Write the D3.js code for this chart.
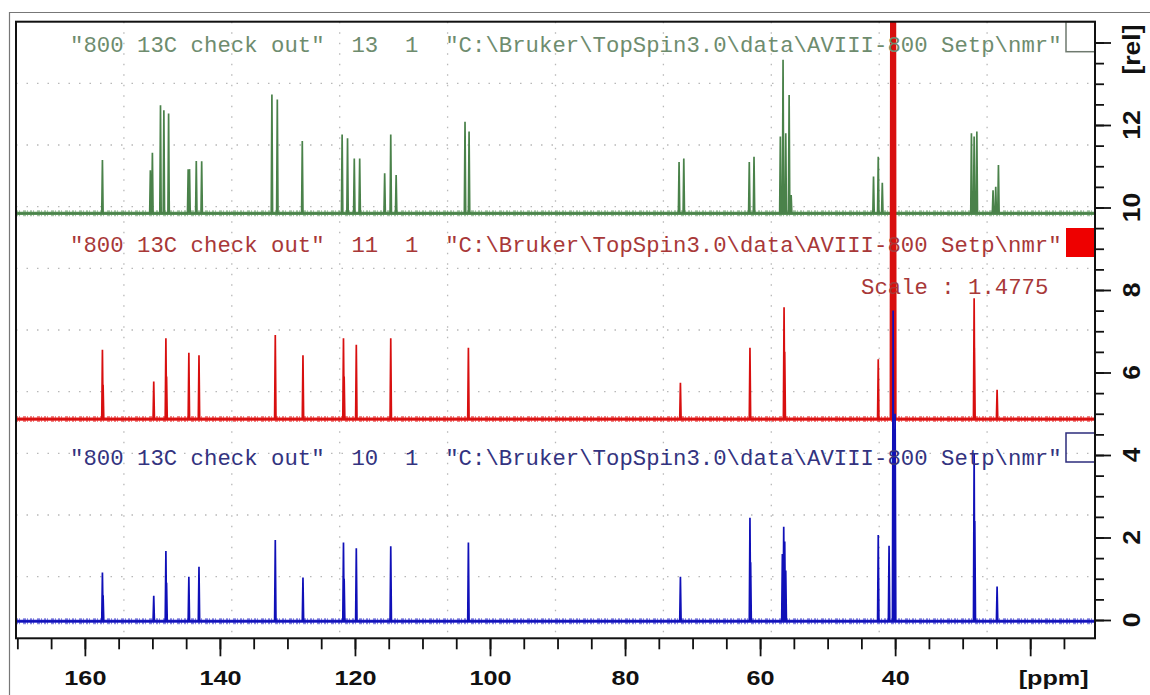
<!DOCTYPE html>
<html><head><meta charset="utf-8">
<script src="https://cdn.jsdelivr.net/npm/d3@7/dist/d3.min.js"></script>
<style>body{margin:0;background:#fff;overflow:hidden}</style>
</head><body><svg id="c" width="1150" height="695"></svg>
<script>
// ---------- data ----------
const ppmTickValues = [160, 140, 120, 100, 80, 60, 40, 20];
const ppmTickLabels = ["160", "140", "120", "100", "80", "60", "40", "[ppm]"];
const relTickValues = [0, 2, 4, 6, 8, 10, 12, 14];
const relTickLabels = ["0", "2", "4", "6", "8", "10", "12", "[rel]"];

const seriesTitles = [
  '"800 13C check out"  13  1  "C:\\Bruker\\TopSpin3.0\\data\\AVIII-800 Setp\\nmr"',
  '"800 13C check out"  11  1  "C:\\Bruker\\TopSpin3.0\\data\\AVIII-800 Setp\\nmr"',
  '"800 13C check out"  10  1  "C:\\Bruker\\TopSpin3.0\\data\\AVIII-800 Setp\\nmr"'
];
const scaleNote = "Scale : 1.4775";

// baselines (rel units, stacked offsets)
const baseline13 = 9.86;
const baseline11 = 4.87;
const baseline10 = -0.03;

// peaks: [ppm, top (rel)]
const peaks13 = [
  [157.4,11.15],[150.3,10.9],[150.0,11.33],[148.8,12.48],[148.3,12.36],[147.6,12.28],
  [144.7,10.93],[144.5,10.93],[143.5,11.13],[142.7,11.12],[132.3,12.74],[131.5,12.62],
  [127.8,11.61],[121.9,11.77],[121.1,11.68],[120.1,11.19],[119.3,11.19],
  [115.6,10.83],[114.7,11.77],[113.9,10.79],[103.7,12.08],[103.1,11.84],
  [72.0,11.1],[71.3,11.19],[61.6,11.1],[60.9,11.23],
  [57.0,11.72],[56.6,13.58],[56.2,11.8],[55.7,12.73],[55.4,10.3],
  [43.2,10.75],[42.5,11.23],[41.9,10.6],[40.5,20],[40.2,20],
  [28.7,11.8],[28.3,11.72],[27.9,11.84],[25.5,10.42],[25.1,10.5],[24.7,11.03]
];
const peaks11 = [
  [157.4,6.55],[157.3,5.7],[149.8,5.78],[148.0,6.83],[147.9,5.9],[144.6,6.48],[143.1,6.42],
  [131.8,6.91],[127.7,6.42],[121.7,6.83],[121.6,5.9],[119.8,6.67],[114.7,6.83],
  [103.2,6.6],[71.8,5.75],[61.5,6.6],[56.45,7.58],[56.35,6.5],[42.5,6.32],
  [40.6,20],[40.3,20],[40.0,20],[28.3,7.8],[28.25,6.6],[24.9,5.58]
];
const peaks10 = [
  [157.4,1.15],[157.3,0.6],[149.8,0.59],[148.0,1.67],[147.9,0.9],[144.6,1.05],[143.1,1.29],
  [131.8,1.94],[127.7,1.03],[121.7,1.88],[121.6,1.0],[119.8,1.74],[114.7,1.79],
  [103.2,1.88],[71.8,1.05],[61.5,2.48],[61.4,1.4],[56.7,1.6],[56.5,2.26],[56.35,1.9],
  [56.2,1.2],[42.5,2.06],[40.9,1.8],[40.3,7.5],[40.0,5.0],[28.3,4.04],[28.2,2.4],[24.9,0.81]
];

// ---------- layout ----------
const svg = d3.select("#c");
const L = 16, R = 1095, T = 21.7, B = 638.3;
const x = d3.scaleLinear().domain([170.2, 10.4]).range([L, R]);
const y = d3.scaleLinear().domain([0, 14]).range([620, 620 - 14 * 41.25]);

// outer window border
svg.append("path").attr("d", `M9.5,695 V12.5 H1150`).attr("fill", "none")
  .attr("stroke", "#777").attr("stroke-width", 1.2);

// grid (10 equal divisions)
const grid = svg.append("g").attr("stroke", "#b8b8b8").attr("stroke-width", 1.3)
  .attr("stroke-dasharray", "1.5,9");
d3.range(1, 10).forEach(k => {
  const gx = L + (R - L) * k / 10;
  grid.append("line").attr("x1", gx).attr("x2", gx).attr("y1", T).attr("y2", B);
  const gy = B - (B - T) * k / 10;
  grid.append("line").attr("x1", L).attr("x2", R).attr("y1", gy).attr("y2", gy);
});

svg.append("clipPath").attr("id", "clip").append("rect")
  .attr("x", L).attr("y", T).attr("width", R - L).attr("height", B - T);

const plot = svg.append("g").attr("clip-path", "url(#clip)");
const line = d3.line().x(d => x(d[0])).y(d => y(d[1]));
const W = 0.1;

function spectrum(peaks, base, color, bandColor) {
  const sorted = peaks.slice().sort((a, b) => b[0] - a[0]);
  const pts = [[x.domain()[0], base]];
  sorted.forEach(p => { pts.push([p[0] + W, base], [p[0], p[1]], [p[0] - W, base]); });
  pts.push([x.domain()[1], base]);
  const ends = [[x.domain()[0], base], [x.domain()[1], base]];
  // noise band rendered as textured strokes around the baseline
  plot.append("path").datum(ends).attr("d", line).attr("fill", "none")
    .attr("stroke", bandColor).attr("stroke-width", 6).attr("opacity", 0.55)
    .attr("stroke-dasharray", "2,1,1,3,3,1,1,2");
  plot.append("path").datum(ends).attr("d", line).attr("fill", "none")
    .attr("stroke", bandColor).attr("stroke-width", 3.2);
  plot.append("path").datum(pts).attr("d", line).attr("fill", "none")
    .attr("stroke", color).attr("stroke-width", 1.7).attr("stroke-linejoin", "miter");
}
spectrum(peaks13, baseline13, "#4a824a", "#5e965e");
spectrum(peaks11, baseline11, "#d80f0f", "#e42424");
spectrum(peaks10, baseline10, "#1010b8", "#2222c4");

// titles
const mono = "'Liberation Mono','Courier New',monospace";
const titleColors = ["#6e8c6e", "#a83838", "#33337f"];
const titleY = [52, 252, 465];
seriesTitles.forEach((t, i) => {
  svg.append("text").attr("x", 70).attr("y", titleY[i]).text(t)
    .attr("font-family", mono).attr("font-size", 22.3)
    .attr("textLength", 74 * 13.4).attr("lengthAdjust", "spacing")
    .attr("fill", titleColors[i]).style("white-space", "pre");
});
svg.append("text").attr("x", 861).attr("y", 294).text(scaleNote)
  .attr("font-family", mono).attr("font-size", 22.3).attr("fill", titleColors[1])
  .style("white-space", "pre");

// legend boxes
svg.append("rect").attr("x", 1066).attr("y", T).attr("width", R - 1066).attr("height", 30)
  .attr("fill", "#fff").attr("stroke", "#6f7a6f").attr("stroke-width", 1.5);
svg.append("rect").attr("x", 1066).attr("y", 228).attr("width", R - 1066).attr("height", 29)
  .attr("fill", "#ee0000");
svg.append("rect").attr("x", 1066).attr("y", 433).attr("width", R - 1066).attr("height", 29)
  .attr("fill", "none").attr("stroke", "#2c2c7c").attr("stroke-width", 1.5);

// frame
svg.append("rect").attr("x", L).attr("y", T).attr("width", R - L).attr("height", B - T)
  .attr("fill", "none").attr("stroke", "#111").attr("stroke-width", 2);

// x axis
const xMinor = svg.append("g").attr("transform", `translate(0,${B})`)
  .call(d3.axisBottom(x).tickValues(d3.range(170, 14, -5)).tickSize(11).tickFormat(""));
const xMajor = svg.append("g").attr("transform", `translate(0,${B})`)
  .call(d3.axisBottom(x).tickValues(ppmTickValues).tickSize(18)
    .tickFormat((d, i) => ppmTickLabels[i]).tickPadding(14));
[xMinor, xMajor].forEach(g => {
  g.select(".domain").remove();
  g.selectAll("line").attr("stroke", "#111").attr("stroke-width", 1.8);
});
xMajor.selectAll("text").attr("font-family", "'Liberation Sans',Arial,sans-serif")
  .attr("font-weight", "bold").attr("font-size", 21).attr("fill", "#111")
  .attr("dy", "0.71em").attr("y", 32)
  .attr("transform", (d, i) => (ppmTickLabels[i] === "[ppm]" ? "translate(23,0) " : "") + "scale(1.2,1)");

// y axis
const yMinor = svg.append("g").attr("transform", `translate(${R},0)`)
  .call(d3.axisRight(y).tickValues(d3.range(0, 14.01, 0.5)).tickSize(9).tickFormat(""));
const yMajor = svg.append("g").attr("transform", `translate(${R},0)`)
  .call(d3.axisRight(y).tickValues(relTickValues).tickSize(16).tickFormat(""));
[yMinor, yMajor].forEach(g => {
  g.select(".domain").remove();
  g.selectAll("line").attr("stroke", "#111").attr("stroke-width", 1.8);
});
const yl = svg.append("g");
relTickValues.forEach((v, i) => {
  const cy = y(v) + (relTickLabels[i] === "[rel]" ? 7 : 0);
  yl.append("text").attr("transform", `translate(1140,${cy}) rotate(-90) scale(1.15,1)`)
    .attr("text-anchor", "middle").text(relTickLabels[i])
    .attr("font-family", "'Liberation Sans',Arial,sans-serif")
    .attr("font-weight", "bold").attr("font-size", 23).attr("fill", "#111");
});
</script></body></html>
